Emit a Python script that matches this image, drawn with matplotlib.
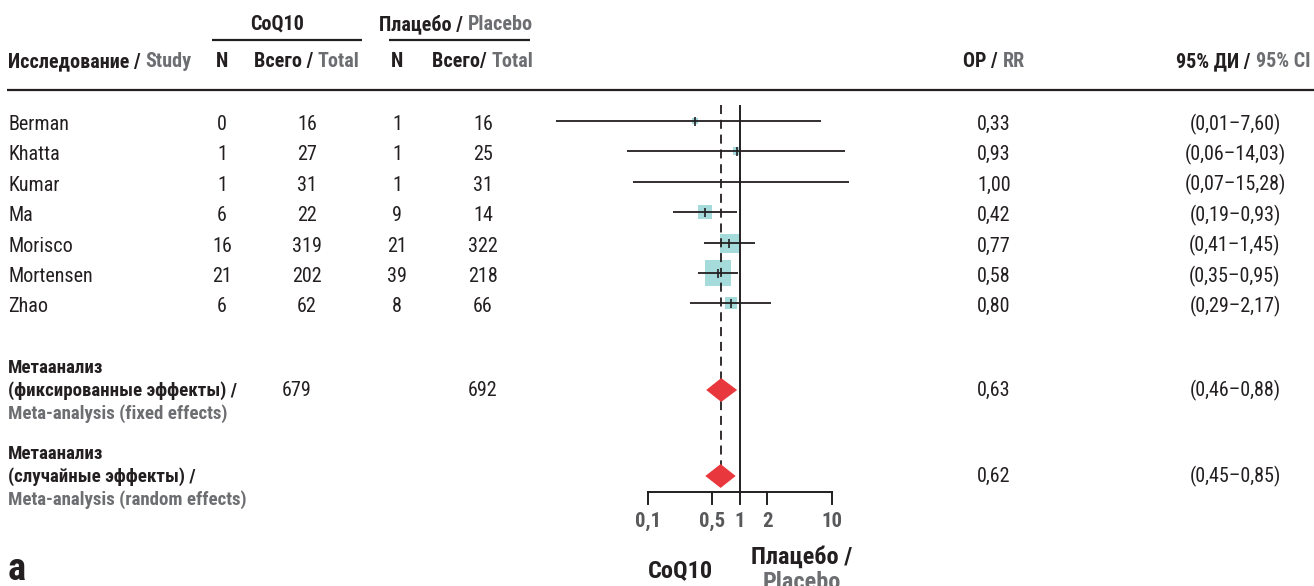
import matplotlib
matplotlib.use("Agg")
import matplotlib.pyplot as plt
from matplotlib.patches import Polygon
from matplotlib import font_manager as fm

# ---------------- data ----------------
studies = ["Berman", "Khatta", "Kumar", "Ma", "Morisco", "Mortensen", "Zhao"]
coq_n = [0, 1, 1, 6, 16, 21, 6]
coq_total = [16, 27, 31, 22, 319, 202, 62]
pla_n = [1, 1, 1, 9, 21, 39, 8]
pla_total = [16, 25, 31, 14, 322, 218, 66]
rr = [0.33, 0.93, 1.00, 0.42, 0.77, 0.58, 0.80]
ci_lo = [0.01, 0.06, 0.07, 0.19, 0.41, 0.35, 0.29]
ci_hi = [7.60, 14.03, 15.28, 0.93, 1.45, 0.95, 2.17]
weight_pct = [2.5, 3.4, 0.6, 13.6, 25.0, 43.3, 11.7]

meta_ru = [["Метаанализ", "(фиксированные эффекты) /"],
           ["Метаанализ", "(случайные эффекты) /"]]
meta_en = ["Meta-analysis (fixed effects)", "Meta-analysis (random effects)"]
meta_coq_total = [679, None]
meta_pla_total = [692, None]
meta_rr = [0.63, 0.62]
meta_lo = [0.46, 0.45]
meta_hi = [0.88, 0.85]

axis_ticks = [0.1, 0.5, 1, 2, 10]
axis_ticklabels = ["0,1", "0,5", "1", "2", "10"]

# ---------------- font choice ----------------
names = {f.name for f in fm.fontManager.ttflist}
condensed_dejavu = any(f.name == "DejaVu Sans" and "condensed" in str(f.stretch).lower()
                       for f in fm.fontManager.ttflist)
STRETCH = "normal"
if "Liberation Sans Narrow" in names:
    MAIN = "Liberation Sans Narrow"
elif "Roboto Condensed" in names:
    MAIN = "Roboto Condensed"
elif condensed_dejavu:
    MAIN = "DejaVu Sans"
    STRETCH = "condensed"
elif "Roboto" in names:
    MAIN = "Roboto"
else:
    MAIN = "Liberation Sans"
FAM = [MAIN, "DejaVu Sans"]

BLACK = "#231f20"
GRAY = "#6d6e71"
TICKGRAY = "#58595b"
TEAL = "#a6dbdc"
RED = "#e8383d"

W, H = 1314, 586
fig = plt.figure(figsize=(W / 100, H / 100), dpi=100)
ax = fig.add_axes([0, 0, 1, 1])
ax.set_xlim(0, W)
ax.set_ylim(H, 0)
ax.axis("off")
renderer = fig.canvas.get_renderer()


def txt(x, y, s, ha="left", size=14, weight="normal", color=BLACK, axes=None):
    a = axes if axes is not None else ax
    return a.text(x, y, s, ha=ha, va="baseline", fontsize=size, fontstretch=STRETCH,
                  fontweight=weight, color=color, family=FAM, clip_on=False)


def width_of(s, size, weight):
    t = txt(0, 0, s, size=size, weight=weight)
    w = t.get_window_extent(renderer).width
    t.remove()
    return w


def fit(s, target_px, weight, cap):
    size = 10 * target_px / width_of(s, 10, weight)
    return min(size, cap)


HDR_SIZE = fit("Исследование / Study", 185, "bold", 14.5)
BODY = fit("(0,06–14,03)", 106, "normal", 14.5)
META = fit("(фиксированные эффекты) /", 229, "bold", 14.5)
TICK = fit("0,5", 26, "bold", 15)
BOTTOM = fit("CoQ10", 67, "bold", 17.5)
LETTER = fit("а", 18, "bold", 30)


def fmt(v):
    return f"{v:.2f}".replace(".", ",")


def rich(x, y, parts, ha="left", size=14.5, weight="bold"):
    full = "".join(p for p, _ in parts)
    w = width_of(full, size, weight)
    start = x if ha == "left" else (x - w / 2 if ha == "center" else x - w)
    txt(start, y, parts[0][0], ha="left", size=size, weight=weight, color=parts[0][1])
    txt(start + w, y, parts[1][0], ha="right", size=size, weight=weight, color=parts[1][1])


# columns (pixel layout)
X_NAME, X_CN, X_CT, X_PN, X_PT, X_RR, X_CI = 8, 222, 307, 397, 483, 994, 1235

# header
txt(277, 30, "CoQ10", ha="center", size=HDR_SIZE, weight="bold")
rich(456, 30, [("Плацебо / ", BLACK), ("Placebo", GRAY)], ha="center", size=HDR_SIZE)
ax.plot([212, 362], [40, 40], color=BLACK, lw=1.6, solid_capstyle="butt")
ax.plot([389, 530], [40, 40], color=BLACK, lw=1.6, solid_capstyle="butt")
rich(X_NAME, 67, [("Исследование / ", BLACK), ("Study", GRAY)], size=HDR_SIZE)
txt(X_CN, 67, "N", ha="center", size=HDR_SIZE, weight="bold")
rich(X_CT, 67, [("Всего / ", BLACK), ("Total", GRAY)], ha="center", size=HDR_SIZE)
txt(X_PN, 67, "N", ha="center", size=HDR_SIZE, weight="bold")
rich(X_PT, 67, [("Всего/ ", BLACK), ("Total", GRAY)], ha="center", size=HDR_SIZE)
rich(X_RR, 67, [("ОР / ", BLACK), ("RR", GRAY)], ha="center", size=HDR_SIZE)
rich(1310, 67, [("95% ДИ / ", BLACK), ("95% CI", GRAY)], ha="right", size=HDR_SIZE)
ax.plot([7, W], [90, 90], color=BLACK, lw=1.6, solid_capstyle="butt")

# study rows
row_y = [123 + 30.4 * i for i in range(len(studies))]
for i, name in enumerate(studies):
    yb = row_y[i] + 7
    txt(X_NAME, yb, name, size=BODY)
    txt(X_CN, yb, str(coq_n[i]), ha="center", size=BODY)
    txt(X_CT, yb, str(coq_total[i]), ha="center", size=BODY)
    txt(X_PN, yb, str(pla_n[i]), ha="center", size=BODY)
    txt(X_PT, yb, str(pla_total[i]), ha="center", size=BODY)
    txt(X_RR, yb, fmt(rr[i]), ha="center", size=BODY)
    txt(X_CI, yb, f"({fmt(ci_lo[i])}–{fmt(ci_hi[i])})", ha="center", size=BODY)

# meta rows
meta_y = [390, 476]
for k in range(2):
    yc = meta_y[k]
    txt(X_NAME, yc - 17, meta_ru[k][0], size=META, weight="bold")
    txt(X_NAME, yc + 6, meta_ru[k][1], size=META, weight="bold")
    txt(X_NAME, yc + 29, meta_en[k], size=META, weight="bold", color=GRAY)
    if meta_coq_total[k] is not None:
        txt(X_CT - 10, yc + 6, str(meta_coq_total[k]), ha="center", size=BODY)
    if meta_pla_total[k] is not None:
        txt(X_PT, yc + 6, str(meta_pla_total[k]), ha="center", size=BODY)
    txt(X_RR, yc + 6, fmt(meta_rr[k]), ha="center", size=BODY)
    txt(X_CI, yc + 6, f"({fmt(meta_lo[k])}–{fmt(meta_hi[k])})", ha="center", size=BODY)

txt(8, 580, "а", size=LETTER, weight="bold")

# ---------------- forest plot ----------------
X0, X1 = 647.7, 831.7
fx = fig.add_axes([X0 / W, 0, (X1 - X0) / W, 1])
fx.set_xscale("log")
fx.set_xlim(axis_ticks[0], axis_ticks[-1])
fx.set_ylim(H, 0)
fx.axis("off")
fx.patch.set_alpha(0)

line_y = [y - 2 for y in row_y]
for i in range(len(studies)):
    fx.plot([ci_lo[i], ci_hi[i]], [line_y[i], line_y[i]], color=BLACK, lw=1.3,
            clip_on=False, zorder=2, solid_capstyle="butt")
    side_pt = 3.8 * weight_pct[i] ** 0.5 * 0.72
    fx.scatter([rr[i]], [line_y[i]], marker="s", s=side_pt ** 2, color=TEAL,
               linewidths=0, zorder=1, clip_on=False)
    fx.scatter([rr[i]], [line_y[i]], marker="|", s=(9 * 0.72) ** 2, color=BLACK,
               linewidths=1.2, zorder=3, clip_on=False)

AXIS_Y = 491.5
fx.plot([1, 1], [105, AXIS_Y], color=BLACK, lw=1.4, zorder=5, solid_capstyle="butt")
dl, = fx.plot([meta_rr[1], meta_rr[1]], [105, meta_y[1]], color=BLACK, lw=1.3, zorder=2)
dl.set_dashes((5.0, 3.2))

for k in range(2):
    yc = meta_y[k]
    h = 10
    poly = Polygon([(meta_lo[k], yc), (meta_rr[k], yc - h), (meta_hi[k], yc),
                    (meta_rr[k], yc + h)], closed=True, facecolor=RED,
                   edgecolor=RED, lw=2.2, joinstyle="miter", zorder=4, clip_on=False)
    fx.add_patch(poly)

# axis
fx.plot([axis_ticks[0], axis_ticks[-1]], [AXIS_Y, AXIS_Y], color=BLACK, lw=1.4,
        clip_on=False, solid_capstyle="projecting")
for t, lab in zip(axis_ticks, axis_ticklabels):
    fx.plot([t, t], [AXIS_Y, AXIS_Y + 12], color=BLACK, lw=1.4, clip_on=False)
    txt(t, 527, lab, ha="center", size=TICK, weight="bold", color=TICKGRAY, axes=fx)

txt(680, 577, "CoQ10", ha="center", size=BOTTOM, weight="bold")
txt(802, 564, "Плацебо /", ha="center", size=BOTTOM, weight="bold")
txt(802, 589, "Placebo", ha="center", size=BOTTOM, weight="bold", color=GRAY)

fig.savefig("out.png", dpi=100)
